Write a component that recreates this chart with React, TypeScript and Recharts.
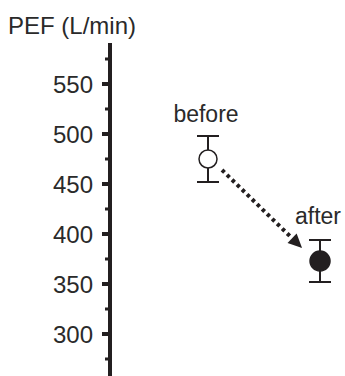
import { ComposedChart, Scatter, XAxis, YAxis, ErrorBar, ReferenceLine, Customized } from "recharts";

const NAMES = ["before", "after"];
const POSITIONS = [1, 2];
const PEF = [475, 373];
const ERRORS = [23, 21];
const FILLED = [false, true];

const Y_TICKS = [275, 300, 325, 350, 375, 400, 425, 450, 475, 500, 525, 550, 575];
const ARROW = [
  { x: 1.125, y: 464 },
  { x: 1.84, y: 386 },
];

const INK = "#231f20";
const TEXT = "#2a2a2a";
const FONT = "'Liberation Sans', Arial, sans-serif";

const data = NAMES.map((name, i) => ({ name, x: POSITIONS[i], pef: PEF[i], err: ERRORS[i], filled: FILLED[i] }));

function YTick(props: any) {
  const { x, y, payload } = props;
  const v = payload.value as number;
  const major = v % 50 === 0;
  return (
    <g>
      {major ? (
        <rect x={x - 8} y={y - 2} width={8} height={4} fill={INK} />
      ) : (
        <rect x={x - 5} y={y - 1.5} width={5} height={3} fill={INK} />
      )}
      {major && (
        <text x={x - 17} y={y} dy="0.36em" textAnchor="end" fontSize={24} fill={TEXT} fontFamily={FONT}>
          {v}
        </text>
      )}
    </g>
  );
}

function Point(props: any) {
  const { cx, cy, payload } = props;
  return (
    <g>
      <circle cx={cx} cy={cy} r={payload.filled ? 10 : 9} fill={payload.filled ? INK : "#fff"} stroke={INK} strokeWidth={1.5} />
      <text x={cx - 2} y={cy - 37} textAnchor="middle" fontSize={23} fill={TEXT} fontFamily={FONT}>
        {payload.name}
      </text>
    </g>
  );
}

function DottedArrow(props: any) {
  const { x1, y1, x2, y2 } = props;
  const dx = x2 - x1;
  const dy = y2 - y1;
  const len = Math.sqrt(dx * dx + dy * dy);
  const ux = dx / len;
  const uy = dy / len;
  const head = 14;
  const half = 6.5;
  const bx = x2 - ux * head;
  const by = y2 - uy * head;
  return (
    <g>
      <line x1={x1} y1={y1} x2={bx} y2={by} stroke={INK} strokeWidth={4} strokeDasharray="3.5 3.5" />
      <polygon
        points={`${x2},${y2} ${bx - uy * half},${by + ux * half} ${bx + uy * half},${by - ux * half}`}
        fill={INK}
      />
    </g>
  );
}

export default function App() {
  return (
    <div style={{ position: "absolute", left: 0, top: 0, background: "#fff" }}>
      <ComposedChart width={345} height={376} data={data} margin={{ top: 43, right: 0, bottom: 0, left: 0 }}>
        <XAxis type="number" dataKey="x" domain={[0.125, 2.223]} allowDataOverflow hide />
        <YAxis
          type="number"
          width={110}
          domain={[258, 591]}
          allowDataOverflow
          ticks={Y_TICKS}
          interval={0}
          tickSize={0}
          tickMargin={0}
          tickLine={false}
          axisLine={{ stroke: INK, strokeWidth: 4 }}
          tick={<YTick />}
        />
        <ReferenceLine segment={ARROW} shape={<DottedArrow />} ifOverflow="visible" />
        <Scatter dataKey="pef" shape={<Point />} isAnimationActive={false}>
          <ErrorBar dataKey="err" direction="y" width={11} stroke={INK} strokeWidth={2} />
        </Scatter>
        <Customized
          component={() => (
            <text x={8} y={34} fontSize={24} fill={TEXT} fontFamily={FONT}>
              PEF (L/min)
            </text>
          )}
        />
      </ComposedChart>
    </div>
  );
}
